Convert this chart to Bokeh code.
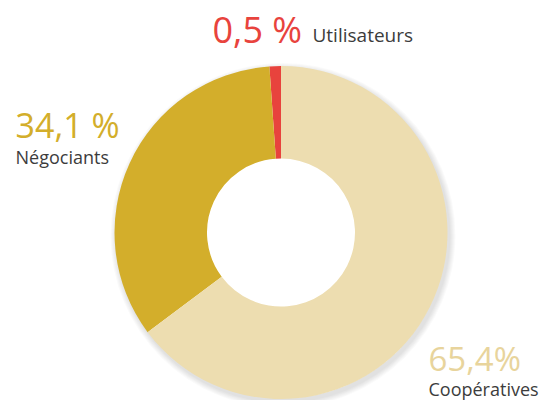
import math
from bokeh.plotting import figure
from bokeh.models import ColumnDataSource, Range1d
from bokeh.core.properties import value
from bokeh.embed import file_html
from bokeh.resources import INLINE

# ---- data ----
categories = ["Utilisateurs", "Négociants", "Coopératives"]
percent = [0.5, 34.1, 65.4]
pct_labels = ["0,5 %", "34,1 %", "65,4%"]
colors = ["#E8433D", "#D3AE2B", "#EDDDB0"]
label_colors = ["#E8433D", "#D3AE2B", "#E8D49C"]

W, H = 544, 400
p = figure(width=W, height=H, output_backend="svg", toolbar_location=None,
           x_range=Range1d(0, W), y_range=Range1d(0, H), min_border=0)
p.axis.visible = False
p.grid.visible = False
p.outline_line_color = None
p.background_fill_color = "white"
p.border_fill_color = "white"

cx, cy = 280.5, 168
r_out, r_in = 166.5, 74

# angles: start at top, counter-clockwise; tiny slice gets a minimum visible sweep
min_sweep = math.radians(4.0)
sweeps = [max(v / 100 * 2 * math.pi, min_sweep) for v in percent]
sweeps[-1] = 2 * math.pi - sum(sweeps[:-1])
starts, ends = [], []
a = math.pi / 2
for s in sweeps:
    starts.append(a)
    ends.append(a + s)
    a += s

# soft shadow
for k in range(6):
    p.annulus(x=cx + 2, y=cy - 3, inner_radius=r_out - 4, outer_radius=r_out + 1 + k,
              fill_color="#000000", fill_alpha=0.02, line_color=None)

src = ColumnDataSource(dict(start=starts, end=ends, color=colors, cat=categories))
p.annular_wedge(x=cx, y=cy, inner_radius=r_in, outer_radius=r_out,
                start_angle="start", end_angle="end", direction="anticlock",
                fill_color="color", line_color=None, source=src)

font = value("Open Sans")
grey = "#3c3c3c"
# Utilisateurs
p.text(x=[212], y=[371], text=[pct_labels[0]], text_font=font, text_font_size="36px",
       text_color=label_colors[0], text_baseline="alphabetic")
p.text(x=[312], y=[366], text=[categories[0]], text_font=font, text_font_size="19px",
       text_color=grey, text_baseline="alphabetic")
# Négociants
p.text(x=[15], y=[276], text=[pct_labels[1]], text_font=font, text_font_size="34px",
       text_color=label_colors[1], text_baseline="alphabetic")
p.text(x=[15], y=[244], text=[categories[1]], text_font=font, text_font_size="18px",
       text_color=grey, text_baseline="alphabetic")
# Coopératives
p.text(x=[428], y=[42], text=[pct_labels[2]], text_font=font, text_font_size="33px",
       text_color=label_colors[2], text_baseline="alphabetic")
p.text(x=[428], y=[12], text=[categories[2]], text_font=font, text_font_size="18px",
       text_color=grey, text_baseline="alphabetic")

open("out.html", "w").write(file_html(p, INLINE))
